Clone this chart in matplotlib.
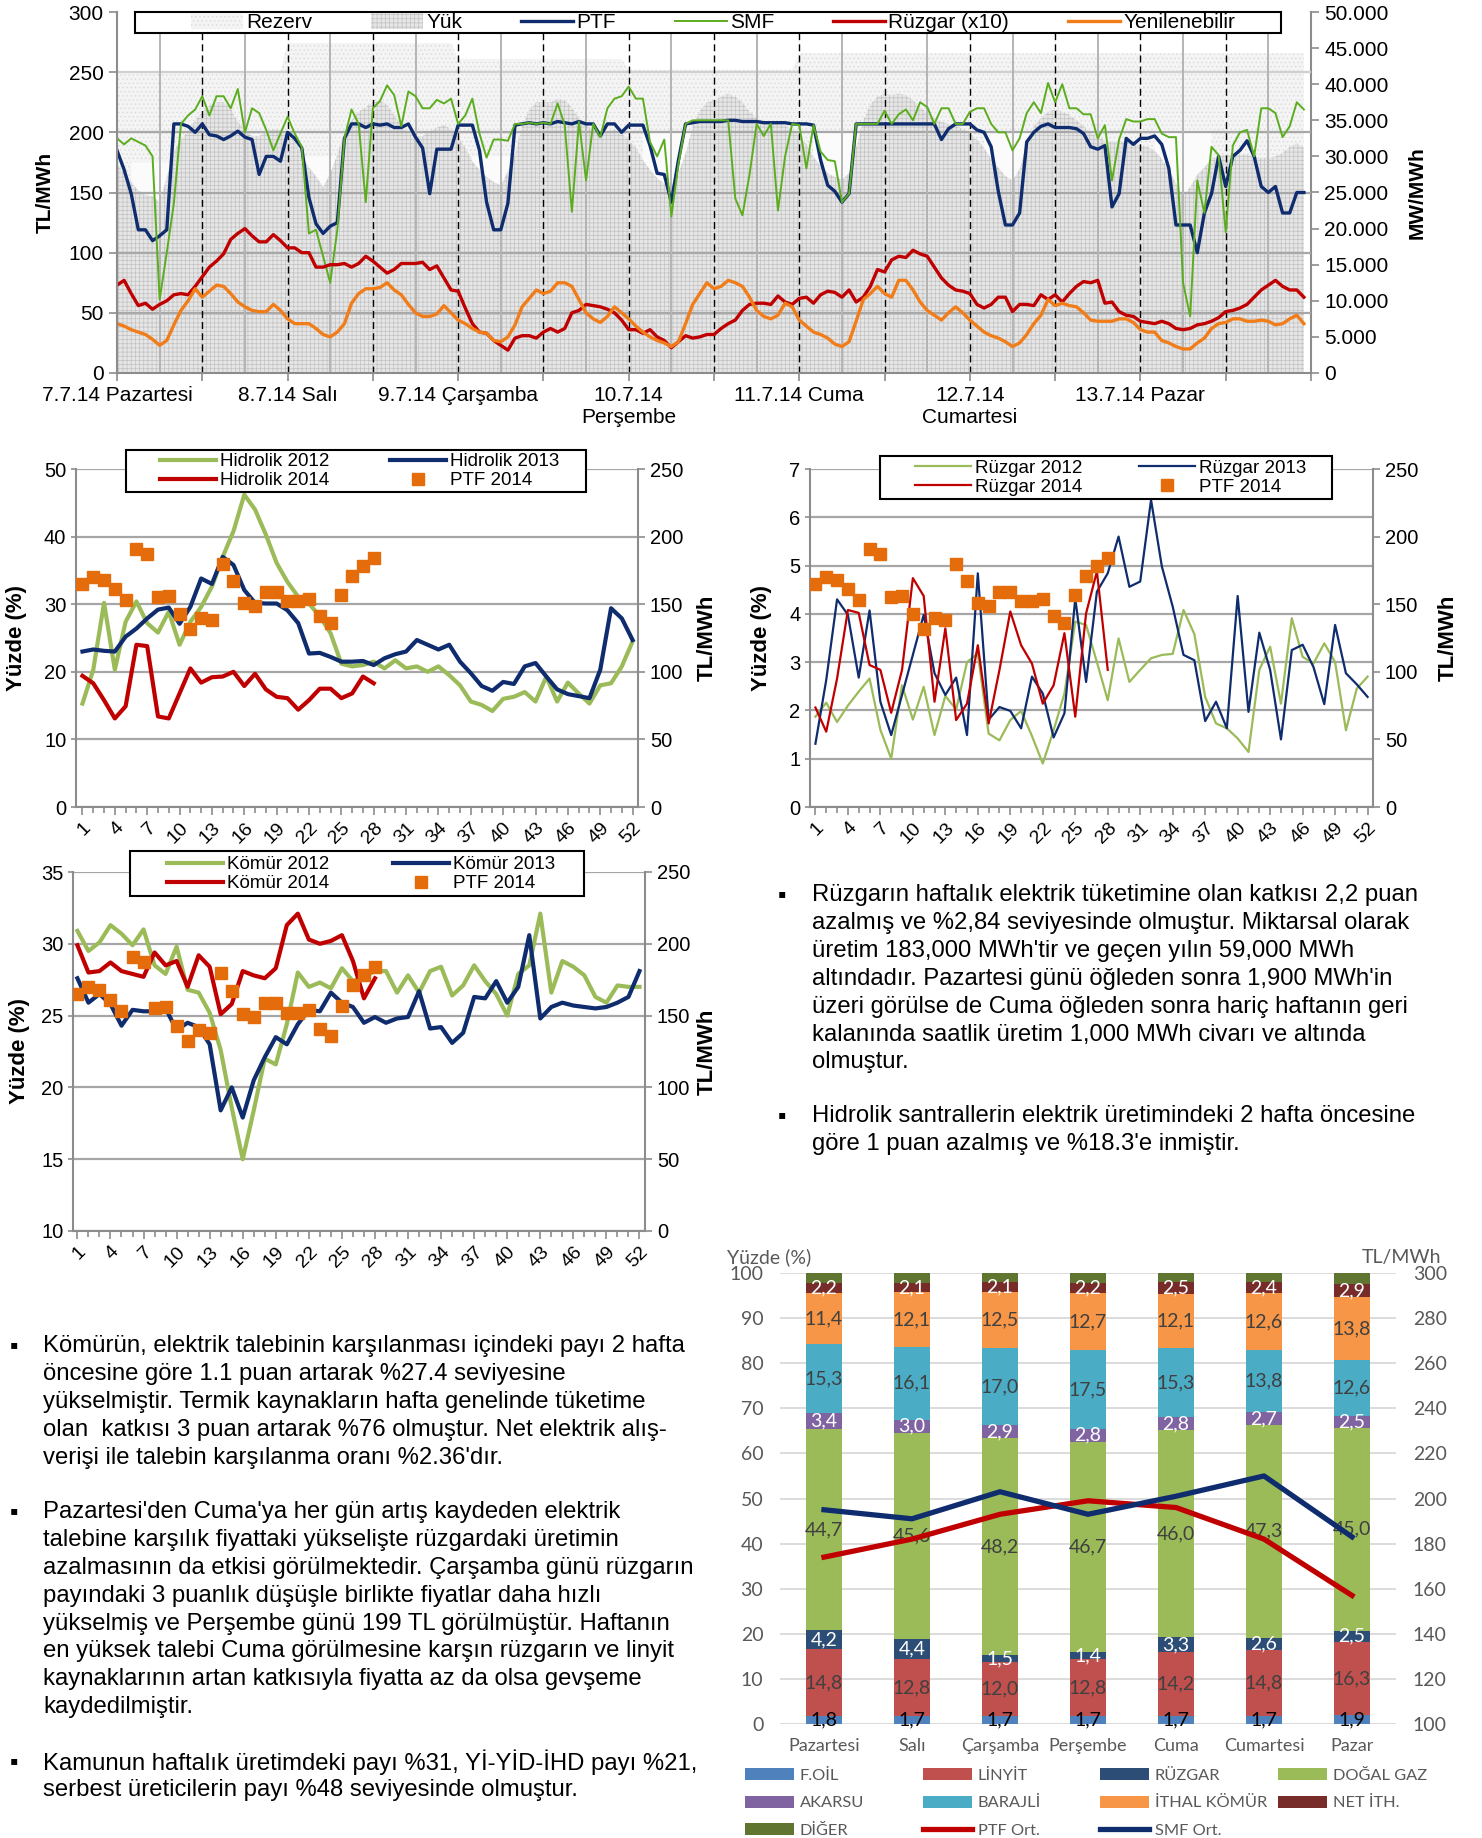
import numpy as np
import matplotlib
matplotlib.use("Agg")
import matplotlib.pyplot as plt
from matplotlib.patches import Patch, Rectangle

plt.rcParams["font.family"] = ["Liberation Sans", "DejaVu Sans"]
plt.rcParams["hatch.linewidth"] = 0.5

# ---------------- üst grafik: 7-13 Temmuz 2014 saatlik ----------------
gun_etiketleri = ["7.7.14 Pazartesi", "8.7.14 Salı", "9.7.14 Çarşamba", "10.7.14\nPerşembe",
                  "11.7.14 Cuma", "12.7.14\nCumartesi", "13.7.14 Pazar"]

ptf = [185, 169, 149, 119, 119, 110, 114, 119, 207, 207, 205, 200, 207, 198, 197, 194, 197, 201, 196, 194, 165, 180, 180, 176,
       200, 195, 187, 146, 124, 116, 122, 125, 195, 207, 207, 204, 207, 206, 207, 204, 204, 207, 196, 187, 149, 186, 186, 186,
       206, 206, 206, 185, 142, 119, 119, 141, 206, 207, 208, 207, 208, 207, 209, 208, 207, 209, 207, 207, 197, 207, 207, 200,
       206, 206, 206, 189, 166, 165, 142, 177, 207, 208, 209, 209, 209, 209, 210, 210, 209, 209, 209, 208, 208, 208, 208, 207,
       207, 207, 206, 177, 156, 151, 142, 149, 207, 207, 207, 207, 207, 207, 207, 207, 207, 207, 207, 207, 194, 203, 207, 207,
       207, 202, 200, 188, 151, 123, 123, 133, 192, 200, 205, 207, 204, 204, 204, 203, 199, 188, 186, 189, 138, 149, 195, 190,
       195, 195, 197, 190, 170, 123, 123, 123, 100, 133, 149, 180, 155, 180, 185, 193, 180, 155, 150, 155, 133, 133, 150, 150]

smf = [195, 190, 195, 192, 189, 180, 61, 100, 141, 207, 214, 219, 230, 214, 230, 230, 220, 236, 200, 220, 216, 202, 185, 199,
       213, 199, 188, 116, 119, 97, 75, 119, 195, 219, 207, 142, 220, 226, 239, 231, 205, 234, 230, 220, 220, 227, 224, 228,
       207, 214, 228, 199, 179, 194, 194, 193, 207, 207, 208, 207, 208, 207, 224, 206, 134, 209, 160, 207, 196, 220, 228, 230,
       238, 228, 228, 192, 180, 194, 130, 174, 207, 210, 210, 210, 210, 210, 210, 145, 131, 165, 207, 197, 207, 135, 180, 207,
       206, 170, 206, 184, 177, 176, 142, 149, 207, 207, 207, 207, 218, 207, 215, 219, 210, 225, 221, 207, 220, 220, 207, 207,
       217, 220, 220, 207, 200, 200, 185, 195, 216, 225, 216, 241, 225, 240, 220, 220, 215, 215, 195, 206, 160, 194, 211, 209,
       209, 211, 211, 199, 196, 196, 75, 47, 160, 133, 188, 181, 117, 189, 200, 202, 180, 220, 220, 216, 196, 205, 225, 219]

ruzgar_x10 = [73, 77, 66, 56, 58, 53, 57, 60, 65, 66, 65, 72, 80, 88, 93, 99, 111, 116, 120, 114, 109, 109, 115, 110,
              104, 104, 100, 100, 88, 88, 90, 90, 91, 88, 91, 97, 93, 88, 83, 86, 91, 91, 91, 92, 86, 89, 79, 69,
              68, 54, 41, 34, 33, 27, 23, 19, 29, 31, 31, 29, 34, 37, 34, 37, 50, 52, 57, 56, 55, 53, 50, 44,
              36, 36, 33, 36, 30, 27, 21, 26, 31, 29, 30, 32, 32, 37, 41, 44, 52, 57, 58, 58, 57, 64, 59, 57,
              62, 63, 58, 65, 68, 67, 63, 69, 59, 63, 72, 86, 84, 94, 97, 96, 102, 99, 97, 88, 79, 73, 69, 68,
              66, 57, 54, 57, 63, 63, 51, 57, 57, 56, 65, 61, 65, 59, 66, 72, 76, 75, 77, 58, 59, 51, 48, 47,
              43, 42, 41, 43, 41, 37, 36, 37, 40, 41, 43, 46, 51, 52, 54, 57, 63, 69, 73, 77, 72, 69, 69, 63]

yenilenebilir = [41, 39, 36, 34, 32, 28, 23, 27, 40, 52, 60, 70, 63, 68, 73, 72, 66, 59, 55, 52, 51, 51, 57, 52,
                 45, 41, 41, 41, 37, 32, 30, 34, 41, 58, 66, 70, 70, 71, 75, 69, 65, 57, 50, 47, 47, 49, 56, 50,
                 44, 41, 37, 34, 33, 27, 26, 30, 40, 55, 62, 69, 66, 68, 75, 75, 72, 61, 50, 45, 42, 47, 55, 50,
                 45, 39, 34, 30, 27, 25, 22, 26, 41, 57, 66, 75, 70, 72, 77, 75, 72, 63, 52, 47, 45, 48, 58, 55,
                 44, 39, 34, 32, 29, 24, 22, 26, 43, 61, 66, 72, 66, 63, 77, 77, 69, 59, 52, 48, 44, 50, 55, 50,
                 44, 39, 34, 31, 29, 26, 22, 25, 32, 41, 48, 61, 56, 58, 56, 55, 50, 44, 43, 43, 43, 45, 45, 42,
                 36, 34, 34, 27, 25, 22, 20, 20, 25, 29, 37, 41, 42, 45, 45, 43, 43, 44, 43, 40, 41, 45, 48, 41]

yuk_mw = [29000, 27700, 26500, 25300, 24700, 24500, 23700, 27200, 30700, 32300, 33500, 35000, 36200, 37000, 37500, 37500, 36700, 34800, 33700, 32800, 32800, 33500, 33800, 33700,
          32700, 32300, 30000, 28500, 27300, 25800, 27700, 30300, 33200, 35000, 36200, 36800, 37500, 37700, 37200, 35700, 34300, 33300, 32800, 32800, 33500, 34000, 34300, 33800,
          32700, 31200, 29300, 28200, 27200, 26500, 26000, 28000, 30300, 34200, 36500, 37500, 37500, 37500, 38000, 37800, 36800, 35300, 34300, 33700, 33300, 33500, 33700, 33200,
          32300, 31200, 29500, 28200, 27000, 26300, 25800, 27700, 30500, 34200, 36300, 37500, 37700, 38300, 38700, 38300, 37500, 36200, 35300, 34800, 34800, 34500, 34300, 33700,
          32800, 31700, 30000, 28700, 27700, 27200, 26800, 27700, 31300, 35000, 37200, 38300, 38700, 38500, 38700, 38500, 37800, 36800, 36000, 35300, 34800, 34500, 34300, 33800,
          33200, 32300, 31200, 29700, 28500, 27300, 26700, 28300, 31800, 34200, 35300, 36200, 36500, 36200, 35800, 35000, 34200, 33300, 32700, 32200, 32000, 32000, 32000, 31800,
          31500, 31300, 30800, 29700, 28200, 26300, 24500, 25800, 27500, 28500, 29700, 30000, 30200, 30200, 30200, 30200, 30000, 29800, 29800, 30000, 30500, 31300, 31800, 31200]

# Rezerv alanının günlük üst sınırı (MW) ve gece boşlukları (saat: üst seviye MW)
rezerv_ust = [41700, 45700, 43500, 42000, 44300, 44300, 44300]
gece_bosluk = {6: 29200, 29: 30000, 54: 30000, 78: 33300, 102: 33300, 126: 33300, 150: 33700}

# ---------------- haftalık grafikler ----------------
hidrolik_2012 = [15.3, 20.3, 30.2, 20.3, 27.4, 30.4, 27.2, 25.8, 28.9, 24.0, 27.4, 29.6, 32.6, 37.0, 40.8, 46.2, 44.0, 40.3,
                 36.1, 33.3, 31.1, 30.1, 28.2, 25.7, 21.2, 20.8, 21.0, 21.5, 20.5, 21.7, 20.5, 20.8, 20.0, 20.8, 19.5, 18.0,
                 15.6, 15.1, 14.2, 16.0, 16.3, 17.0, 15.6, 19.3, 15.6, 18.4, 16.8, 15.3, 18.0, 18.3, 20.8, 24.5]
hidrolik_2013 = [23.0, 23.3, 23.1, 23.0, 25.2, 26.4, 27.9, 29.2, 29.5, 27.1, 29.6, 33.8, 33.0, 37.0, 35.8, 32.1, 30.2, 30.1,
                 30.1, 29.1, 27.2, 22.7, 22.8, 22.2, 21.5, 21.5, 21.6, 21.0, 22.0, 22.6, 23.0, 24.7, 24.0, 23.3, 24.0, 21.5,
                 19.8, 17.9, 17.2, 18.5, 18.2, 20.8, 21.3, 19.3, 17.4, 16.7, 16.4, 16.1, 20.3, 29.4, 27.9, 24.7]
hidrolik_2014 = [19.4, 18.3, 15.8, 13.1, 14.9, 24.0, 23.8, 13.4, 13.1, 16.8, 20.5, 18.4, 19.2, 19.3, 20.0, 17.9, 19.7, 17.4,
                 16.3, 16.1, 14.4, 15.8, 17.5, 17.5, 16.1, 16.8, 19.3, 18.3]

ruzgar_2012 = [1.87, 2.16, 1.76, 2.10, 2.39, 2.66, 1.60, 1.00, 2.52, 1.81, 2.49, 1.49, 2.30, 2.02, 3.00, 3.18, 1.52, 1.38,
               1.80, 1.99, 1.47, 0.90, 1.59, 2.35, 3.84, 3.77, 3.00, 2.21, 3.49, 2.59, 2.84, 3.08, 3.15, 3.17, 4.08, 3.58,
               2.28, 1.73, 1.63, 1.42, 1.14, 2.84, 3.32, 2.14, 3.91, 3.11, 2.97, 3.39, 3.00, 1.59, 2.45, 2.70]
ruzgar_2013 = [1.31, 2.63, 4.30, 3.98, 2.68, 4.07, 2.18, 1.49, 2.32, 3.15, 3.98, 2.77, 2.32, 2.68, 1.49, 4.84, 1.81, 2.07,
               1.99, 1.63, 2.70, 2.35, 1.44, 1.94, 4.32, 2.59, 4.46, 4.84, 5.60, 4.56, 4.67, 6.36, 4.98, 4.15, 3.15, 3.04,
               1.78, 2.18, 1.63, 4.37, 1.97, 3.61, 2.84, 1.40, 3.25, 3.36, 2.90, 2.13, 3.77, 2.77, 2.54, 2.28]
ruzgar_2014 = [2.06, 1.56, 2.66, 4.08, 4.02, 2.94, 2.84, 1.95, 2.84, 4.74, 4.37, 2.18, 3.70, 1.80, 2.14, 3.35, 1.73, 2.84,
               4.05, 3.35, 2.97, 2.14, 2.52, 3.60, 1.87, 4.01, 4.88, 2.84]

komur_2012 = [30.9, 29.5, 30.1, 31.3, 30.7, 29.9, 31.0, 28.5, 27.9, 29.8, 26.8, 26.6, 25.2, 22.6, 18.6, 15.0, 18.4, 22.0,
              21.6, 24.4, 28.0, 27.0, 27.3, 26.9, 28.3, 27.4, 27.7, 28.1, 28.1, 26.6, 27.8, 26.6, 28.1, 28.4, 26.4, 27.1,
              28.5, 27.4, 26.5, 25.0, 27.9, 28.5, 32.1, 26.6, 28.8, 28.4, 27.8, 26.3, 25.9, 27.1, 27.0, 27.0]
komur_2013 = [27.6, 25.9, 26.5, 25.8, 24.3, 25.4, 25.3, 25.3, 25.5, 24.0, 24.5, 24.2, 23.0, 18.4, 20.0, 17.9, 20.5, 22.1,
              23.5, 23.0, 24.4, 25.4, 25.3, 26.6, 25.9, 25.6, 24.5, 24.9, 24.5, 24.8, 24.9, 26.7, 24.1, 24.2, 23.1, 23.8,
              26.3, 26.2, 27.4, 25.9, 27.0, 30.6, 24.8, 25.6, 25.9, 25.7, 25.6, 25.5, 25.6, 25.9, 26.3, 28.1]
komur_2014 = [29.9, 28.0, 28.1, 28.7, 28.1, 27.9, 27.7, 29.4, 28.5, 28.8, 27.0, 29.2, 28.4, 25.1, 25.8, 28.1, 27.8, 27.6,
              28.3, 31.3, 32.1, 30.3, 30.0, 30.2, 30.6, 28.8, 26.2, 27.6]

ptf_2014 = [165, 170, 168, 161, 153, 191, 187, 155, 156, 143, 132, 140, 138, 180, 167, 151, 149, 159, 159, 152, 152, 154,
            141, 136, 157, 171, 178, 184]

# ---------------- günlük üretim payları ----------------
gun_adlari = ["Pazartesi", "Salı", "Çarşamba", "Perşembe", "Cuma", "Cumartesi", "Pazar"]
f_oil = [1.8, 1.7, 1.7, 1.7, 1.7, 1.7, 1.9]
linyit = [14.8, 12.8, 12.0, 12.8, 14.2, 14.8, 16.3]
ruzgar = [4.2, 4.4, 1.5, 1.4, 3.3, 2.6, 2.5]
dogal_gaz = [44.7, 45.6, 48.2, 46.7, 46.0, 47.3, 45.0]
akarsu = [3.4, 3.0, 2.9, 2.8, 2.8, 2.7, 2.5]
barajli = [15.3, 16.1, 17.0, 17.5, 15.3, 13.8, 12.6]
ithal_komur = [11.4, 12.1, 12.5, 12.7, 12.1, 12.6, 13.8]
net_ith = [2.2, 2.1, 2.1, 2.2, 2.5, 2.4, 2.9]
diger = [2.2, 2.2, 2.1, 2.2, 2.1, 2.1, 2.5]
ptf_ort = [174, 182, 193, 199, 196, 182, 157]
smf_ort = [195, 191, 203, 193, 201, 210, 183]

sag_metin_1 = ["Rüzgarın haftalık elektrik tüketimine olan katkısı 2,2 puan",
               "azalmış ve %2,84 seviyesinde olmuştur. Miktarsal olarak",
               "üretim 183,000 MWh'tir ve geçen yılın 59,000 MWh",
               "altındadır. Pazartesi günü öğleden sonra 1,900 MWh'in",
               "üzeri görülse de Cuma öğleden sonra hariç haftanın geri",
               "kalanında saatlik üretim 1,000 MWh civarı ve altında",
               "olmuştur."]
sag_metin_2 = ["Hidrolik santrallerin elektrik üretimindeki 2 hafta öncesine",
               "göre 1 puan azalmış ve %18.3'e inmiştir."]
sol_metin_1 = ["Kömürün, elektrik talebinin karşılanması içindeki payı 2 hafta",
               "öncesine göre 1.1 puan artarak %27.4 seviyesine",
               "yükselmiştir. Termik kaynakların hafta genelinde tüketime",
               "olan  katkısı 3 puan artarak %76 olmuştur. Net elektrik alış-",
               "verişi ile talebin karşılanma oranı %2.36'dır."]
sol_metin_2 = ["Pazartesi'den Cuma'ya her gün artış kaydeden elektrik",
               "talebine karşılık fiyattaki yükselişte rüzgardaki üretimin",
               "azalmasının da etkisi görülmektedir. Çarşamba günü rüzgarın",
               "payındaki 3 puanlık düşüşle birlikte fiyatlar daha hızlı",
               "yükselmiş ve Perşembe günü 199 TL görülmüştür. Haftanın",
               "en yüksek talebi Cuma görülmesine karşın rüzgarın ve linyit",
               "kaynaklarının artan katkısıyla fiyatta az da olsa gevşeme",
               "kaydedilmiştir."]
sol_metin_3 = ["Kamunun haftalık üretimdeki payı %31, Yİ-YİD-İHD payı %21,",
               "serbest üreticilerin payı %48 seviyesinde olmuştur."]

W, H = 1482, 1838
fig = plt.figure(figsize=(W / 100, H / 100), dpi=100)
GRI = "#8C8C8C"


def eksen(sol, ust, sag, alt):
    return fig.add_axes([sol / W, 1 - alt / H, (sag - sol) / W, (alt - ust) / H])


def cerceve(sol, ust, sag, alt):
    # lejant kutusu (piksel)
    fig.add_artist(Rectangle((sol / W, 1 - alt / H), (sag - sol) / W, (alt - ust) / H, transform=fig.transFigure,
                             facecolor="white", edgecolor="black", lw=1.5, zorder=4))


def lejant(tutamac, adlar, sol, sag, orta_y, **kw):
    lg = fig.legend(tutamac, adlar, loc="center left", bbox_to_anchor=(sol / W, 1 - orta_y / H, (sag - sol) / W, 0),
                    mode="expand", frameon=False, borderpad=0, borderaxespad=0, **kw)
    lg.set_zorder(6)
    return lg


# ================= üst grafik =================
ax = eksen(117, 12, 1311, 373)
axm = ax.twinx()
ax.set_zorder(axm.get_zorder() + 1)
ax.patch.set_visible(False)

saat = np.arange(168)
kap = np.repeat(rezerv_ust, 24)
yuk = np.array(yuk_mw)
axm.fill_between(saat, yuk, kap, facecolor="#F4F4F4", edgecolor="#DADADA", hatch="....", linewidth=0)
axm.fill_between(saat, 0, yuk, facecolor="#E6E6E6", edgecolor="#C2C2C2", hatch="++++", linewidth=0)
for c, seviye in gece_bosluk.items():
    s = np.arange(c - 4, c + 5)
    axm.fill_between(s, yuk[s], seviye, where=yuk[s] < seviye, interpolate=True,
                     facecolor="#FBFBFB", linewidth=0)
axm.set_ylim(0, 50000)
axm.set_yticks(range(0, 50001, 5000))
axm.set_yticklabels([f"{v:,}".replace(",", ".") for v in range(0, 50001, 5000)])
axm.set_ylabel("MW/MWh", fontweight="bold", fontsize=15, labelpad=14)

ax.plot(saat, ptf, color="#0E2C6E", lw=2.4, label="PTF")
ax.plot(saat, smf, color="#5BAD1E", lw=1.4, label="SMF")
ax.plot(saat, ruzgar_x10, color="#C00000", lw=2.4, label="Rüzgar (x10)")
ax.plot(saat, yenilenebilir, color="#F07D1A", lw=2.4, label="Yenilenebilir")
ax.set_xlim(0, 168)
ax.set_ylim(0, 300)
ax.set_yticks(range(0, 301, 50))
for y in range(50, 251, 50):
    ax.axhline(y, color="#A8A8A8" if y < 250 else "#D0D0D0", lw=1.6, zorder=0.5)
for h in range(6, 168, 12):
    ax.axvline(h, color="#B4B4B4", lw=1.4, zorder=0.5)
for h in range(12, 168, 12):
    ax.axvline(h, color="black", lw=1.0, ls=(0, (5, 3)), zorder=0.6)
ax.set_xticks(range(0, 169, 12))
ax.set_xticklabels([gun_etiketleri[i // 24] if i % 24 == 0 and i < 168 else "" for i in range(0, 169, 12)])
ax.set_ylabel("TL/MWh", fontweight="bold", fontsize=15, labelpad=10)
for a in (ax, axm):
    for k in ("top", "left", "right", "bottom"):
        a.spines[k].set_visible(False)
ax.spines["left"].set_visible(True)
ax.spines["bottom"].set_visible(True)
axm.spines["right"].set_visible(True)
for a in (ax, axm):
    for sp in a.spines.values():
        sp.set_color(GRI)
        sp.set_linewidth(1.5)
    a.tick_params(labelsize=15, color=GRI, length=6, width=1.2)

cerceve(135, 12, 1281, 33)
ust_tutamac = [Patch(facecolor="#F4F4F4", edgecolor="#DADADA", hatch="....", lw=0),
               Patch(facecolor="#E6E6E6", edgecolor="#C2C2C2", hatch="++++", lw=0)] + ax.get_lines()[:4]
lejant(ust_tutamac, ["Rezerv", "Yük", "PTF", "SMF", "Rüzgar (x10)", "Yenilenebilir"], 191, 1235, 22.5,
       ncol=6, fontsize=15, handlelength=2.5, handleheight=0.8, handletextpad=0.15)


# ================= haftalık grafikler =================
def haftalik(kutu, ylim, adim, seriler, kalinlik, xsol, leg, pad_sol, pad_sag):
    a = eksen(*kutu)
    ar = a.twinx()
    cizgiler = []
    for ad, veri, renk in seriler:
        cizgiler += a.plot(np.arange(1, len(veri) + 1), veri, color=renk, lw=kalinlik, label=ad)
    kare = ar.plot(np.arange(1, len(ptf_2014) + 1), ptf_2014, ls="none", marker="s", ms=8,
                   color="#E46C0A", mec="#E46C0A", label="PTF 2014")
    a.set_xlim(xsol, 52.5)
    a.set_ylim(*ylim)
    a.set_yticks(np.arange(ylim[0], ylim[1] + 0.01, adim))
    ar.set_ylim(0, 250)
    ar.set_yticks(range(0, 251, 50))
    a.set_xticks(range(1, 53, 3))
    a.set_xticks(range(1, 53), minor=True)
    a.set_xticklabels([str(i) for i in range(1, 53, 3)], rotation=45, ha="right", rotation_mode="anchor")
    a.yaxis.grid(True, color="#A6A6A6", lw=1.6)
    a.set_axisbelow(True)
    for k in ("top", "right"):
        a.spines[k].set_visible(False)
    for k in ("top", "left", "bottom"):
        ar.spines[k].set_visible(False)
    for sp in list(a.spines.values()) + list(ar.spines.values()):
        sp.set_color(GRI)
        sp.set_linewidth(1.5)
    a.tick_params(axis="both", which="both", labelsize=14.5, color=GRI, width=1.2)
    a.tick_params(axis="x", which="major", length=6, pad=3, labelsize=14)
    a.tick_params(axis="x", which="minor", length=4)
    ar.tick_params(labelsize=14.5, color=GRI, width=1.2, length=5)
    a.set_ylabel("Yüzde (%)", fontweight="bold", fontsize=16, labelpad=pad_sol)
    ar.set_ylabel("TL/MWh", fontweight="bold", fontsize=16, labelpad=pad_sag)
    # lejant: (çerçeve sol, üst, sağ, alt), (içerik sol, sağ, orta y)
    (cs, cu, csg, ca), (isl, isg, oy) = leg
    cerceve(cs, cu, csg, ca)
    tut = [cizgiler[0], cizgiler[2], cizgiler[1], kare[0]]
    lejant(tut, [h.get_label() for h in tut], isl, isg, oy, ncol=2, fontsize=13.5,
           handlelength=3.0, handletextpad=0.2, labelspacing=0.1)
    return a


haftalik((76, 469, 638, 807), (0, 50), 10,
         [("Hidrolik 2012", hidrolik_2012, "#9BBB59"), ("Hidrolik 2013", hidrolik_2013, "#0E2C6E"),
          ("Hidrolik 2014", hidrolik_2014, "#C00000")], 3.0, 0.4,
         ((126, 450, 586, 492), (160, 559, 471)), 12, 10)
haftalik((810, 469, 1373, 807), (0, 7), 1,
         [("Rüzgar 2012", ruzgar_2012, "#9BBB59"), ("Rüzgar 2013", ruzgar_2013, "#0E2C6E"),
          ("Rüzgar 2014", ruzgar_2014, "#C00000")], 1.6, 0.5,
         ((880, 456, 1332, 499), (915, 1306, 477.5)), 12, 14)
haftalik((73, 872, 645, 1231), (10, 35), 5,
         [("Kömür 2012", komur_2012, "#9BBB59"), ("Kömür 2013", komur_2013, "#0E2C6E"),
          ("Kömür 2014", komur_2014, "#C00000")], 3.0, 0.6,
         ((130, 851, 584, 896), (167, 555, 874)), 8, 5)

# ================= günlük üretim payları =================
BAR_FONT = ["Lato", "DejaVu Sans"]
KOYU = "#595959"
axb = eksen(780, 1273, 1396, 1724)
axbr = axb.twinx()
katmanlar = [("F.OİL", f_oil, "#4F81BD", "black"), ("LİNYİT", linyit, "#C0504D", "#404040"),
             ("RÜZGAR", ruzgar, "#2C4D75", "white"), ("DOĞAL GAZ", dogal_gaz, "#9BBB59", "#404040"),
             ("AKARSU", akarsu, "#8064A2", "white"), ("BARAJLİ", barajli, "#4BACC6", "#404040"),
             ("İTHAL KÖMÜR", ithal_komur, "#F79646", "#404040"), ("NET İTH.", net_ith, "#772C2A", "white"),
             ("DİĞER", diger, "#5F7530", None)]
xg = np.arange(len(gun_adlari))
taban = np.zeros(len(gun_adlari))
bar_tut = {}
for ad, veri, renk, yrenk in katmanlar:
    b = axb.bar(xg, veri, 0.4, bottom=taban, color=renk, zorder=2)
    bar_tut[ad] = b
    if yrenk:
        for i, v in enumerate(veri):
            axb.text(i, taban[i] + v / 2, f"{v:.1f}".replace(".", ","), ha="center", va="center",
                     color=yrenk, fontsize=14, family=BAR_FONT, zorder=5)
    taban += np.array(veri)
l_ptf, = axbr.plot(xg, ptf_ort, color="#C00000", lw=3.8)
l_smf, = axbr.plot(xg, smf_ort, color="#0E2C6E", lw=3.8)
axb.set_xlim(-0.5, 6.5)
axb.set_ylim(0, 100)
axb.set_yticks(range(0, 101, 10))
axbr.set_ylim(100, 300)
axbr.set_yticks(range(100, 301, 20))
axb.set_xticks(xg)
axb.set_xticklabels(gun_adlari)
axb.yaxis.grid(True, color="#D9D9D9", lw=1.3)
axb.set_axisbelow(True)
for a in (axb, axbr):
    for sp in a.spines.values():
        sp.set_visible(False)
    a.tick_params(length=0, labelsize=14, labelcolor=KOYU)
    for t in a.get_xticklabels() + a.get_yticklabels():
        t.set_family(BAR_FONT)
axb.tick_params(axis="x", labelsize=13)
axb.tick_params(axis="y", pad=12)
axbr.tick_params(axis="y", pad=12)
axb.tick_params(axis="x", pad=10)
fig.text(769 / W, 1 - 1257 / H, "Yüzde (%)", ha="center", va="center", color=KOYU, fontsize=14, family=BAR_FONT)
fig.text(1401 / W, 1 - 1257 / H, "TL/MWh", ha="center", va="center", color=KOYU, fontsize=14, family=BAR_FONT)

bar_sutunlar = [(745, [("F.OİL", bar_tut["F.OİL"]), ("AKARSU", bar_tut["AKARSU"]), ("DİĞER", bar_tut["DİĞER"])]),
                (923, [("LİNYİT", bar_tut["LİNYİT"]), ("BARAJLİ", bar_tut["BARAJLİ"]), ("PTF Ort.", l_ptf)]),
                (1100, [("RÜZGAR", bar_tut["RÜZGAR"]), ("İTHAL KÖMÜR", bar_tut["İTHAL KÖMÜR"]), ("SMF Ort.", l_smf)]),
                (1278, [("DOĞAL GAZ", bar_tut["DOĞAL GAZ"]), ("NET İTH.", bar_tut["NET İTH."])])]
for x_sol, ogeler in bar_sutunlar:
    bl = fig.legend([o[1] for o in ogeler], [o[0] for o in ogeler], loc="upper left",
                    bbox_to_anchor=(x_sol / W, 1 - 1768 / H), frameon=False, handlelength=3.0, handleheight=0.75,
                    handletextpad=0.35, labelspacing=0.78, borderpad=0, borderaxespad=0,
                    prop={"family": BAR_FONT, "size": 11.8})
    for t in bl.get_texts():
        t.set_color(KOYU)

# ================= metinler =================
METIN = dict(fontsize=17.2, va="center", ha="left")


def paragraf(x_madde, x_metin, y_ilk, satirlar):
    fig.text(x_madde / W, 1 - y_ilk / H, "▪", **METIN)
    for i, s in enumerate(satirlar):
        fig.text(x_metin / W, 1 - (y_ilk + i * 27.9) / H, s, **METIN)


paragraf(778, 812, 895, sag_metin_1)
paragraf(778, 812, 1116, sag_metin_2)
paragraf(10, 43, 1346, sol_metin_1)
paragraf(10, 43, 1512, sol_metin_2)
paragraf(10, 43, 1762, sol_metin_3)

fig.savefig("out.png", dpi=100)
